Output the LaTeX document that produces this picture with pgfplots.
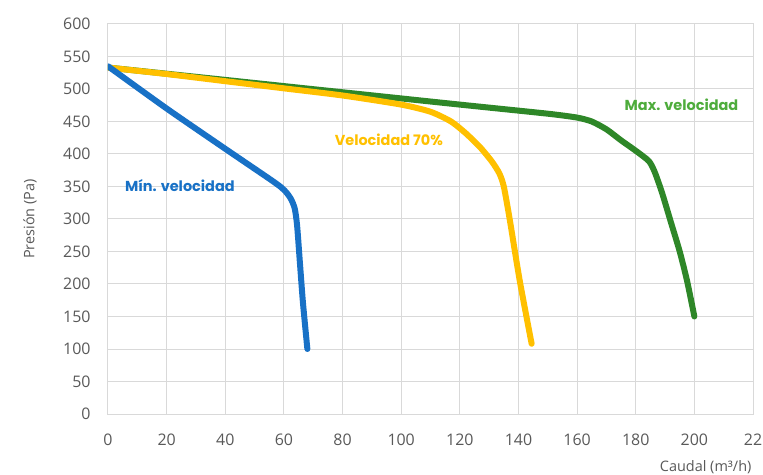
\documentclass[border=0pt]{standalone}
\usepackage{pgfplots}
\pgfplotsset{compat=1.18}
\usepackage{fontspec}
\setmainfont{Open Sans}
\newfontfamily\lblfont{Poppins}
\definecolor{gridgray}{RGB}{217,217,217}
\definecolor{tickgray}{RGB}{89,89,89}
\definecolor{cblue}{RGB}{24,113,198}
\definecolor{cyellow}{RGB}{255,192,0}
\definecolor{cgreen}{RGB}{46,135,40}
\definecolor{cgreenlbl}{RGB}{78,172,60}
\begin{document}
\begin{tikzpicture}
\begin{axis}[
  scale only axis, width=645bp, height=390bp,
  at={(0,0)}, anchor=south west,
  xmin=0, xmax=220, ymin=0, ymax=600,
  xtick={0,20,...,220},
  xticklabels={0,20,40,60,80,100,120,140,160,180,200,22},
  ytick={0,50,...,600},
  grid=major, major grid style={gridgray, line width=1bp},
  axis line style={gridgray, line width=1bp},
  tick style={draw=none},
  /pgf/number format/assume math mode=true,
  ticklabel style={font=\fontsize{16}{18}\selectfont, text=tickgray},
  xticklabel style={yshift=-16bp},
  yticklabel style={xshift=-14bp},
  xlabel={Caudal (m³/h)},
  ylabel={Presión (Pa)},
  xlabel style={at={(axis description cs:1.003,-0.136)}, anchor=east, font=\fontsize{14.5}{16}\selectfont, text=tickgray},
  ylabel style={at={(axis description cs:-0.121,0.5)}, anchor=center, font=\fontsize{14.5}{16}\selectfont, text=tickgray},
  every axis plot/.append style={line width=6bp, line join=round, line cap=round, smooth, tension=0.4},
]
\addplot[cgreen] coordinates {(0,533) (40,514) (80,495) (120,476) (150,462) (160,456) (165,450) (170,438) (175,421) (180,405) (184.5,389) (186.5,372) (189,340) (192,295) (195,250) (197.5,205) (200,150)};
\addplot[cyellow] coordinates {(0,533) (20,523) (40,512) (60,501) (80,490) (100,476) (110,465) (117,450) (122,432) (127,410) (131,388) (133.5,370) (135,350) (137,300) (140.4,206) (144.5,108)};
\addplot[cblue] coordinates {(0,535) (20,470) (40,408) (55,362) (59,349) (61,340) (62.5,330) (63.7,316) (64.5,290) (65.5,230) (66.5,171) (68,100)};
\node[font=\lblfont\bfseries\fontsize{14.5}{16}\selectfont, text=cblue] at (axis cs:24.5,352) {Mín. velocidad};
\node[font=\lblfont\bfseries\fontsize{14.5}{16}\selectfont, text=cyellow] at (axis cs:95.8,421.5) {Velocidad 70\%};
\node[font=\lblfont\bfseries\fontsize{14.5}{16}\selectfont, text=cgreenlbl] at (axis cs:195.6,475) {Max. velocidad};
\end{axis}
\pgfresetboundingbox
\path[use as bounding box] (-108bp,-61bp) rectangle (655bp,414bp);
\end{tikzpicture}
\end{document}
